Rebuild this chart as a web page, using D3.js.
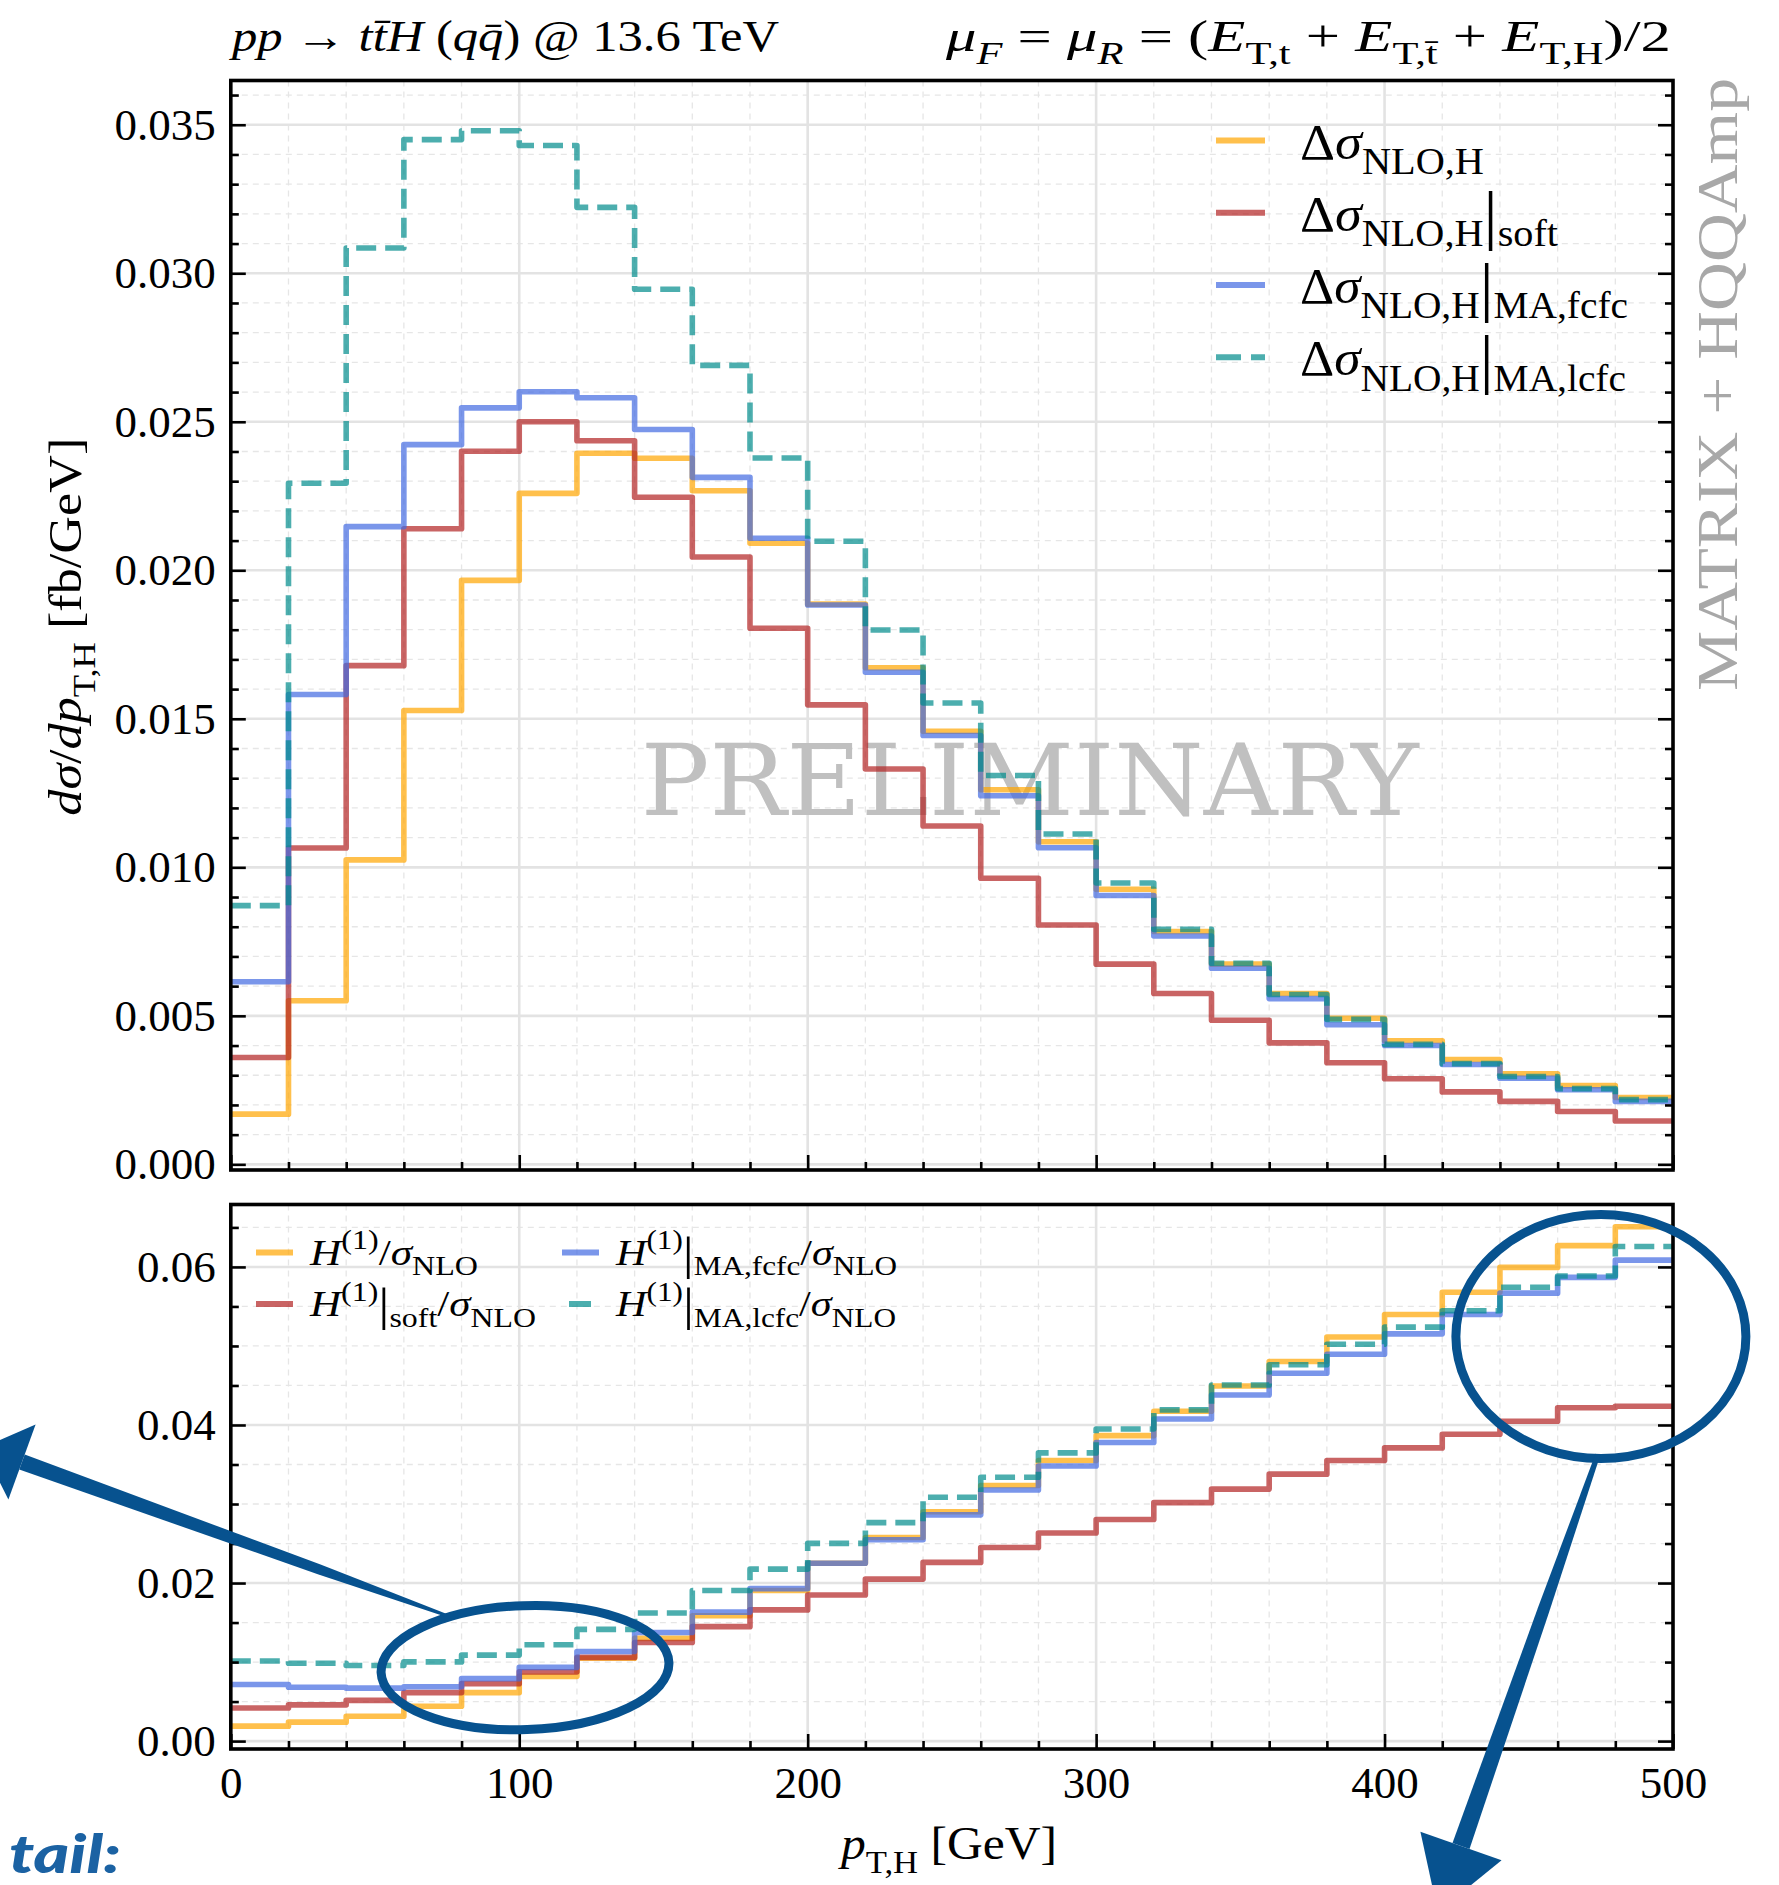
<!DOCTYPE html>
<html>
<head>
<meta charset="utf-8">
<script src="https://cdn.jsdelivr.net/npm/d3@7"></script>
<style>
  html, body { margin: 0; padding: 0; background: #fff; }
  svg { display: block; }
  text { white-space: pre; }
</style>
</head>
<body>
<script>
// ---- data: 20 GeV bins in p_T,H from 0 to 500 GeV ----
const binEdges = [0, 20, 40, 60, 80, 100, 120, 140, 160, 180, 200, 220, 240, 260,
                  280, 300, 320, 340, 360, 380, 400, 420, 440, 460, 480, 500];

// upper panel: d sigma / d p_T,H  [fb/GeV]
const dsigNLOH = [0.00169, 0.00551, 0.01025, 0.01528, 0.01966, 0.02259, 0.02394, 0.02377, 0.02268, 0.02091,
                  0.01886, 0.01672, 0.01458, 0.01261, 0.01086, 0.00926, 0.00784, 0.00674, 0.00575, 0.00492,
                  0.00416, 0.00353, 0.00305, 0.00265, 0.00225];
const dsigSoft = [0.00360, 0.01065, 0.01679, 0.02140, 0.02401, 0.02500, 0.02436, 0.02246, 0.02045, 0.01805,
                  0.01547, 0.01331, 0.01139, 0.00963, 0.00806, 0.00674, 0.00575, 0.00485, 0.00409, 0.00342,
                  0.00288, 0.00244, 0.00212, 0.00178, 0.00146];
const dsigFcfc = [0.00615, 0.01582, 0.02147, 0.02423, 0.02547, 0.02601, 0.02581, 0.02474, 0.02313, 0.02108,
                  0.01883, 0.01657, 0.01444, 0.01241, 0.01066, 0.00905, 0.00769, 0.00660, 0.00558, 0.00470,
                  0.00400, 0.00336, 0.00290, 0.00251, 0.00212];
const dsigLcfc = [0.00871, 0.02293, 0.03085, 0.03450, 0.03480, 0.03430, 0.03222, 0.02946, 0.02690, 0.02378,
                  0.02098, 0.01799, 0.01553, 0.01309, 0.01112, 0.00947, 0.00791, 0.00677, 0.00572, 0.00488,
                  0.00404, 0.00339, 0.00296, 0.00255, 0.00218];

// lower panel: H^(1) / sigma_NLO
const ratioH    = [0.00189, 0.00240, 0.00315, 0.00441, 0.00613, 0.00819, 0.01048, 0.01300, 0.01586, 0.01906,
                   0.02250, 0.02576, 0.02903, 0.03235, 0.03550, 0.03865, 0.04174, 0.04494, 0.04803, 0.05113,
                   0.05399, 0.05680, 0.05994, 0.06269, 0.06509];
const ratioSoft = [0.00418, 0.00458, 0.00515, 0.00613, 0.00727, 0.00876, 0.01059, 0.01248, 0.01448, 0.01660,
                   0.01849, 0.02050, 0.02261, 0.02450, 0.02634, 0.02805, 0.03017, 0.03189, 0.03378, 0.03550,
                   0.03710, 0.03882, 0.04048, 0.04219, 0.04237];
const ratioFcfc = [0.00716, 0.00681, 0.00670, 0.00687, 0.00790, 0.00933, 0.01134, 0.01374, 0.01632, 0.01929,
                   0.02250, 0.02548, 0.02863, 0.03177, 0.03481, 0.03779, 0.04076, 0.04380, 0.04654, 0.04895,
                   0.05153, 0.05399, 0.05668, 0.05868, 0.06086];
const ratioLcfc = [0.01013, 0.00985, 0.00956, 0.01002, 0.01088, 0.01220, 0.01414, 0.01620, 0.01906, 0.02176,
                   0.02502, 0.02765, 0.03086, 0.03338, 0.03647, 0.03950, 0.04191, 0.04506, 0.04763, 0.05021,
                   0.05238, 0.05445, 0.05742, 0.05885, 0.06258];

// tick values
const xMajorTicks = [0, 100, 200, 300, 400, 500];
const xMinorTicks = [20, 40, 60, 80, 120, 140, 160, 180, 220, 240, 260, 280, 320, 340, 360, 380, 420, 440, 460, 480];
const topYMajorTicks = [0, 0.005, 0.010, 0.015, 0.020, 0.025, 0.030, 0.035];
const topYMinorTicks = [0.001, 0.002, 0.003, 0.004, 0.006, 0.007, 0.008, 0.009, 0.011, 0.012, 0.013, 0.014,
                        0.016, 0.017, 0.018, 0.019, 0.021, 0.022, 0.023, 0.024, 0.026, 0.027, 0.028, 0.029,
                        0.031, 0.032, 0.033, 0.034, 0.036];
const botYMajorTicks = [0, 0.02, 0.04, 0.06];
const botYMinorTicks = [0.005, 0.010, 0.015, 0.025, 0.030, 0.035, 0.045, 0.050, 0.055, 0.065];

// ---- layout ----
const W = 1779, H = 1885;
const serif = "'Liberation Serif', 'Times New Roman', serif";
const colors = { nlo: '#FFA500', soft: '#B22222', fcfc: '#4169E1', lcfc: '#008B8B' };
const lineAlpha = 0.7;
const ink = '#07528f';

const x  = d3.scaleLinear().domain([0, 500]).range([230.8, 1673]);
const yT = d3.scaleLinear().domain([-0.00019, 0.03649]).range([1170, 80.5]);
const yB = d3.scaleLinear().domain([-0.001, 0.0679]).range([1749, 1204.5]);

const svg = d3.select('body').append('svg').attr('width', W).attr('height', H)
  .attr('viewBox', `0 0 ${W} ${H}`);
svg.append('rect').attr('width', W).attr('height', H).attr('fill', '#fff');

// rich text with italic / sub / superscript pieces
function rich(t, parts, size, opt = {}) {
  let off = 0;
  const subScale = opt.subScale || 0.7;
  for (const p of parts) {
    let shift = 0, fs = size;
    if (p.sub) { shift = 0.3 * size; fs = subScale * size; }
    if (p.sup) { shift = -0.42 * size; fs = subScale * size; }
    if (p.big) { shift = 0.12 * size; fs = 1.3 * size; }
    t.append('tspan').attr('dy', shift - off).attr('font-size', fs)
      .attr('font-style', p.i ? 'italic' : 'normal').text(p.t);
    off = shift;
  }
  if (opt.width) t.attr('textLength', opt.width).attr('lengthAdjust', 'spacingAndGlyphs');
  return t;
}

const panels = [
  { y: yT, yMajor: topYMajorTicks, yMinor: topYMinorTicks, fmt: d3.format('.3f'), xLabels: false,
    series: [[dsigNLOH, 'nlo'], [dsigSoft, 'soft'], [dsigFcfc, 'fcfc'], [dsigLcfc, 'lcfc']], id: 'top' },
  { y: yB, yMajor: botYMajorTicks, yMinor: botYMinorTicks, fmt: d3.format('.2f'), xLabels: true,
    series: [[ratioH, 'nlo'], [ratioSoft, 'soft'], [ratioFcfc, 'fcfc'], [ratioLcfc, 'lcfc']], id: 'bot' }
];

const [x0, x1] = x.range();

panels.forEach(P => {
  const [yb, yt] = P.y.range();
  const g = svg.append('g');

  svg.append('clipPath').attr('id', 'clip-' + P.id).append('rect')
    .attr('x', x0).attr('y', yt).attr('width', x1 - x0).attr('height', yb - yt);

  // grid: minor dashed, major solid
  const grid = g.append('g');
  grid.selectAll('.gx-minor').data(xMinorTicks).join('line')
    .attr('x1', d => x(d)).attr('x2', d => x(d)).attr('y1', yt).attr('y2', yb)
    .attr('stroke', '#e6e6e6').attr('stroke-width', 1.3).attr('stroke-dasharray', '6,5');
  grid.selectAll('.gy-minor').data(P.yMinor).join('line')
    .attr('x1', x0).attr('x2', x1).attr('y1', d => P.y(d)).attr('y2', d => P.y(d))
    .attr('stroke', '#e6e6e6').attr('stroke-width', 1.3).attr('stroke-dasharray', '6,5');
  grid.selectAll('.gx-major').data(xMajorTicks).join('line')
    .attr('x1', d => x(d)).attr('x2', d => x(d)).attr('y1', yt).attr('y2', yb)
    .attr('stroke', '#e3e3e3').attr('stroke-width', 2.6);
  grid.selectAll('.gy-major').data(P.yMajor).join('line')
    .attr('x1', x0).attr('x2', x1).attr('y1', d => P.y(d)).attr('y2', d => P.y(d))
    .attr('stroke', '#e3e3e3').attr('stroke-width', 2.6);

  // watermark in the upper panel
  if (P.id === 'top') {
    g.append('text').attr('x', x(277)).attr('y', yT(0.01176))
      .attr('text-anchor', 'middle').attr('font-family', "'DejaVu Serif', serif")
      .attr('font-size', 100).attr('fill', '#c0c0c0')
      .attr('textLength', 778).attr('lengthAdjust', 'spacingAndGlyphs')
      .text('PRELIMINARY');
  }

  // histogram step lines
  const line = d3.line().x(d => x(d[0])).y(d => P.y(d[1])).curve(d3.curveStepAfter);
  const lines = g.append('g').attr('clip-path', `url(#clip-${P.id})`);
  P.series.forEach(([vals, key]) => {
    const pts = binEdges.map((e, i) => [e, vals[Math.min(i, vals.length - 1)]]);
    lines.append('path').attr('d', line(pts)).attr('fill', 'none')
      .attr('stroke', colors[key]).attr('stroke-opacity', lineAlpha)
      .attr('stroke-width', 5.6).attr('stroke-linejoin', 'round')
      .attr('stroke-dasharray', key === 'lcfc' ? '20,9' : null);
  });

  // axes (inward ticks)
  const styleAxis = a => {
    a.select('.domain').remove();
    a.attr('font-family', serif).attr('font-size', 45);
    a.selectAll('.tick line').attr('stroke', '#000').attr('stroke-width', 2.6);
    a.selectAll('.tick text').attr('fill', '#000');
  };
  g.append('g').attr('transform', `translate(${x0},0)`)
    .call(d3.axisLeft(P.y).tickValues(P.yMinor).tickSize(-8).tickFormat('')).call(styleAxis);
  g.append('g').attr('transform', `translate(${x0},0)`)
    .call(d3.axisLeft(P.y).tickValues(P.yMajor).tickSize(-15).tickPadding(15).tickFormat(P.fmt)).call(styleAxis);
  g.append('g').attr('transform', `translate(${x1},0)`)
    .call(d3.axisRight(P.y).tickValues(P.yMinor).tickSize(-8).tickFormat('')).call(styleAxis);
  g.append('g').attr('transform', `translate(${x1},0)`)
    .call(d3.axisRight(P.y).tickValues(P.yMajor).tickSize(-15).tickFormat('')).call(styleAxis);
  g.append('g').attr('transform', `translate(0,${yb})`)
    .call(d3.axisBottom(x).tickValues(xMinorTicks).tickSize(-8).tickFormat('')).call(styleAxis);
  g.append('g').attr('transform', `translate(0,${yb})`)
    .call(d3.axisBottom(x).tickValues(xMajorTicks).tickSize(-15).tickPadding(17)
      .tickFormat(P.xLabels ? d3.format('d') : '')).call(styleAxis);

  // frame
  g.append('rect').attr('x', x0).attr('y', yt).attr('width', x1 - x0).attr('height', yb - yt)
    .attr('fill', 'none').attr('stroke', '#000').attr('stroke-width', 3.6);
});

// ---- upper legend ----
const legTop = [
  { key: 'nlo',  w: 184, parts: [{ t: 'Δ' }, { t: 'σ', i: 1 }, { t: 'NLO,H', sub: 1 }] },
  { key: 'soft', w: 258, parts: [{ t: 'Δ' }, { t: 'σ', i: 1 }, { t: 'NLO,H', sub: 1 }, { t: '|', big: 1 }, { t: 'soft', sub: 1 }] },
  { key: 'fcfc', w: 328, parts: [{ t: 'Δ' }, { t: 'σ', i: 1 }, { t: 'NLO,H', sub: 1 }, { t: '|', big: 1 }, { t: 'MA,fcfc', sub: 1 }] },
  { key: 'lcfc', w: 326, parts: [{ t: 'Δ' }, { t: 'σ', i: 1 }, { t: 'NLO,H', sub: 1 }, { t: '|', big: 1 }, { t: 'MA,lcfc', sub: 1 }] }
];
const legTopG = svg.append('g');
legTop.forEach((e, i) => {
  const ly = 140.6 + i * 72.2;
  legTopG.append('line').attr('x1', 1216).attr('x2', 1265).attr('y1', ly).attr('y2', ly)
    .attr('stroke', colors[e.key]).attr('stroke-opacity', lineAlpha).attr('stroke-width', 6)
    .attr('stroke-dasharray', e.key === 'lcfc' ? '25,10' : null);
  const t = legTopG.append('text').attr('x', 1300).attr('y', ly + 18)
    .attr('font-family', serif).attr('fill', '#000');
  rich(t, e.parts, 51, { subScale: 0.74, width: e.w });
});

// ---- lower legend ----
const legBot = [
  { key: 'nlo',  col: 0, row: 0, w: 168, parts: [{ t: 'H', i: 1 }, { t: '(1)', sup: 1 }, { t: '/' }, { t: 'σ', i: 1 }, { t: 'NLO', sub: 1 }] },
  { key: 'soft', col: 0, row: 1, w: 226, parts: [{ t: 'H', i: 1 }, { t: '(1)', sup: 1 }, { t: '|', big: 1 }, { t: 'soft', sub: 1 }, { t: '/' }, { t: 'σ', i: 1 }, { t: 'NLO', sub: 1 }] },
  { key: 'fcfc', col: 1, row: 0, w: 281, parts: [{ t: 'H', i: 1 }, { t: '(1)', sup: 1 }, { t: '|', big: 1 }, { t: 'MA,fcfc', sub: 1 }, { t: '/' }, { t: 'σ', i: 1 }, { t: 'NLO', sub: 1 }] },
  { key: 'lcfc', col: 1, row: 1, w: 280, parts: [{ t: 'H', i: 1 }, { t: '(1)', sup: 1 }, { t: '|', big: 1 }, { t: 'MA,lcfc', sub: 1 }, { t: '/' }, { t: 'σ', i: 1 }, { t: 'NLO', sub: 1 }] }
];
const legBotG = svg.append('g');
legBot.forEach(e => {
  const ly = 1252.5 + e.row * 51.5;
  const lx = e.col === 0 ? 256 : 562;
  legBotG.append('line').attr('x1', lx).attr('x2', lx + 37).attr('y1', ly).attr('y2', ly)
    .attr('stroke', colors[e.key]).attr('stroke-opacity', lineAlpha).attr('stroke-width', 6)
    .attr('stroke-dasharray', e.key === 'lcfc' ? '22,30' : null)
    .attr('stroke-dashoffset', e.key === 'lcfc' ? -7 : null);
  const t = legBotG.append('text').attr('x', lx + 54).attr('y', ly + 12)
    .attr('font-family', serif).attr('fill', '#000');
  rich(t, e.parts, 36, { subScale: 0.74, width: e.w });
});

// ---- titles and axis labels ----
const titleL = svg.append('text').attr('x', 232).attr('y', 51).attr('font-family', serif).attr('fill', '#000');
rich(titleL, [{ t: 'pp', i: 1 }, { t: ' → ' }, { t: 't', i: 1 }, { t: 't\u0304', i: 1 }, { t: 'H', i: 1 },
  { t: ' (' }, { t: 'q', i: 1 }, { t: 'q\u0304', i: 1 }, { t: ') @ 13.6 TeV' }], 44, { width: 547 });

const titleR = svg.append('text').attr('x', 946).attr('y', 51)
  .attr('font-family', serif).attr('fill', '#000');
rich(titleR, [{ t: 'μ', i: 1 }, { t: 'F', i: 1, sub: 1 }, { t: ' = ' }, { t: 'μ', i: 1 }, { t: 'R', i: 1, sub: 1 },
  { t: ' = (' }, { t: 'E', i: 1 }, { t: 'T,t', sub: 1 }, { t: ' + ' }, { t: 'E', i: 1 }, { t: 'T,t\u0304', sub: 1 },
  { t: ' + ' }, { t: 'E', i: 1 }, { t: 'T,H', sub: 1 }, { t: ')/2' }], 44, { width: 725 });

const yLab = svg.append('text').attr('transform', `translate(81,${yT(0.0181)}) rotate(-90)`)
  .attr('text-anchor', 'middle').attr('font-family', serif).attr('fill', '#000');
rich(yLab, [{ t: 'd', i: 1 }, { t: 'σ', i: 1 }, { t: '/' }, { t: 'dp', i: 1 }, { t: 'T,H', sub: 1 }, { t: ' [fb/GeV]' }], 46, { width: 378 });

const xLab = svg.append('text').attr('x', x(249)).attr('y', 1859).attr('text-anchor', 'middle')
  .attr('font-family', serif).attr('fill', '#000');
rich(xLab, [{ t: 'p', i: 1 }, { t: 'T,H', sub: 1 }, { t: ' [GeV]' }], 46, { width: 216 });

svg.append('text').attr('transform', `translate(1737,691) rotate(-90)`)
  .attr('font-family', serif).attr('font-size', 56).attr('fill', '#a8a8a8')
  .attr('textLength', 613).attr('lengthAdjust', 'spacingAndGlyphs')
  .text('MATRIX + HQQAmp');

// ---- hand-drawn highlights ----
const ann = svg.append('g').attr('fill', ink).attr('stroke', ink);

// tapered brush stroke between two points (width w0 at start, wm at fraction f, w1 at end)
function taperedShaft(p0, p1, w0, w1, wm, f) {
  const dx = p1[0] - p0[0], dy = p1[1] - p0[1], L = Math.hypot(dx, dy);
  const nx = -dy / L, ny = dx / L;
  const pm = [p0[0] + dx * f, p0[1] + dy * f];
  return [[p0[0] + nx * w0 / 2, p0[1] + ny * w0 / 2], [pm[0] + nx * wm / 2, pm[1] + ny * wm / 2],
          [p1[0] + nx * w1 / 2, p1[1] + ny * w1 / 2], [p1[0] - nx * w1 / 2, p1[1] - ny * w1 / 2],
          [pm[0] - nx * wm / 2, pm[1] - ny * wm / 2], [p0[0] - nx * w0 / 2, p0[1] - ny * w0 / 2]];
}
function arrowHead(base, dir, halfW, len) {
  const L = Math.hypot(dir[0], dir[1]), ux = dir[0] / L, uy = dir[1] / L;
  return [[base[0] - uy * halfW, base[1] + ux * halfW], [base[0] + ux * len, base[1] + uy * len],
          [base[0] + uy * halfW, base[1] - ux * halfW]];
}
const poly = pts => 'M' + pts.map(p => p.join(',')).join('L') + 'Z';

// circle around the low-p_T region
const e1 = { cx: x(102), cy: yB(0.0093), rx: 144, ry: 62 };
ann.append('ellipse').attr('cx', e1.cx).attr('cy', e1.cy).attr('rx', e1.rx).attr('ry', e1.ry)
  .attr('fill', 'none').attr('stroke-width', 9).attr('transform', `rotate(-2,${e1.cx},${e1.cy})`);
const a1s = [e1.cx - 78, e1.cy - 52], a1e = [22, 1462];
ann.append('path').attr('stroke', 'none').attr('d', poly(taperedShaft(a1s, a1e, 3, 16, 10, 0.3)));
ann.append('path').attr('stroke', 'none')
  .attr('d', poly(arrowHead(a1e, [a1e[0] - a1s[0], a1e[1] - a1s[1]], 40, 42)));

// circle around the high-p_T tail
const e2 = { cx: x(475), cy: yB(0.0512), rx: 145, ry: 122 };
ann.append('ellipse').attr('cx', e2.cx).attr('cy', e2.cy).attr('rx', e2.rx).attr('ry', e2.ry)
  .attr('fill', 'none').attr('stroke-width', 9);
const a2s = [e2.cx - 3, e2.cy + e2.ry - 4], a2e = [1461, 1846];
ann.append('path').attr('stroke', 'none').attr('d', poly(taperedShaft(a2s, a2e, 5, 18, 12, 0.4)));
ann.append('path').attr('stroke', 'none')
  .attr('d', poly(arrowHead(a2e, [a2e[0] - a2s[0], a2e[1] - a2s[1]], 43, 70)));

svg.append('text').attr('x', 9).attr('y', 1873).attr('font-family', "Lato, 'Open Sans', sans-serif")
  .attr('font-weight', 900).attr('font-style', 'italic').attr('font-size', 54).attr('fill', '#1b62a3')
  .attr('textLength', 112).attr('lengthAdjust', 'spacingAndGlyphs')
  .text('tail:');
</script>
</body>
</html>
